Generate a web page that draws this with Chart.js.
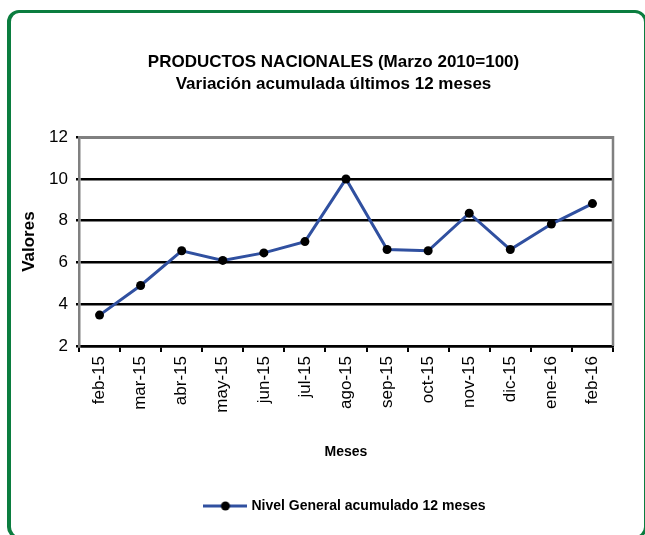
<!DOCTYPE html>
<html>
<head>
<meta charset="utf-8">
<script src="https://cdn.jsdelivr.net/npm/chart.js@4"></script>
<style>
	html, body { margin: 0; padding: 0; background: #fff; overflow: hidden; }
	#wrap { position: relative; width: 645px; height: 535px; overflow: hidden; }
	#frame {
		position: absolute; left: 7px; top: 10px; width: 640px; height: 529px;
		box-sizing: border-box; border: 3px solid #0b7d3f; border-left-width: 4px;
		border-radius: 12px;
	}
	#mycanvas { position: absolute; left: 0; top: 0; }
</style>
</head>
<body>
<div id="wrap">
	<div id="frame"></div>
	<canvas id="mycanvas" width="645" height="535"></canvas>
</div>
<script>
var meses = ["feb-15", "mar-15", "abr-15", "may-15", "jun-15", "jul-15", "ago-15",
	"sep-15", "oct-15", "nov-15", "dic-15", "ene-16", "feb-16"];
var nivelGeneral = [3.48, 4.9, 6.56, 6.1, 6.46, 7.0, 10.0, 6.62, 6.56, 8.36, 6.62, 7.84, 8.82];
var yTicks = [2, 4, 6, 8, 10, 12];

var tituloLineas = ["PRODUCTOS NACIONALES (Marzo 2010=100)", "Variación acumulada últimos 12 meses"];
var serieNombre = "Nivel General acumulado 12 meses";

var FONT = "'Liberation Sans', Arial, Helvetica, sans-serif";
var LINE_COLOR = "#3050a0";
var TITLE_SHIFT = 22;

Chart.defaults.font.family = FONT;
Chart.defaults.color = "#000";

// legend marker: blue line with a black dot
var marker = document.createElement("canvas");
marker.width = 44;
marker.height = 10;
var mctx = marker.getContext("2d");
mctx.strokeStyle = LINE_COLOR;
mctx.lineWidth = 3;
mctx.beginPath();
mctx.moveTo(0, 5);
mctx.lineTo(44, 5);
mctx.stroke();
mctx.fillStyle = "#000";
mctx.beginPath();
mctx.arc(22, 5, 4.5, 0, Math.PI * 2);
mctx.fill();

// gray frame on top and right of the plot, title nudged like the original
var plotFrame = {
	id: "plotFrame",
	afterLayout: function(chart) {
		chart.titleBlock.left += TITLE_SHIFT;
		chart.titleBlock.right += TITLE_SHIFT;
	},
	beforeDatasetsDraw: function(chart) {
		var a = chart.chartArea, ctx = chart.ctx;
		ctx.save();
		ctx.strokeStyle = "#808080";
		ctx.lineWidth = 2.5;
		ctx.beginPath();
		ctx.moveTo(a.left, a.top);
		ctx.lineTo(a.right, a.top);
		ctx.lineTo(a.right, a.bottom);
		ctx.stroke();
		ctx.restore();
	}
};

var ctx = document.getElementById("mycanvas");

var LineGraph = new Chart(ctx, {
	type: "line",
	data: {
		labels: meses,
		datasets: [{
			label: serieNombre,
			data: nivelGeneral,
			fill: false,
			tension: 0,
			borderColor: LINE_COLOR,
			borderWidth: 3,
			pointRadius: 4.5,
			pointBorderWidth: 0,
			pointBackgroundColor: "#000",
			pointBorderColor: "#000",
			pointStyle: "circle"
		}]
	},
	options: {
		responsive: false,
		animation: false,
		devicePixelRatio: 1,
		layout: { padding: { left: 10, right: 32, top: 0, bottom: 12 } },
		plugins: {
			tooltip: { enabled: false },
			title: {
				display: true,
				text: tituloLineas,
				color: "#000",
				font: { size: 17, weight: "bold", lineHeight: 1.3 },
				padding: { top: 51, bottom: 42 }
			},
			legend: {
				position: "bottom",
				fullSize: false,
				labels: {
					usePointStyle: true,
					pointStyle: marker,
					pointStyleWidth: 38,
					color: "#000",
					font: { size: 14, weight: "bold" },
					padding: 10,
					generateLabels: function(chart) {
						return [{ text: serieNombre, pointStyle: marker, fillStyle: LINE_COLOR,
							strokeStyle: LINE_COLOR, lineWidth: 0, datasetIndex: 0 }];
					}
				}
			}
		},
		scales: {
			x: {
				type: "category",
				offset: true,
				grid: { offset: true, drawOnChartArea: false, drawTicks: true, tickLength: 6,
					color: "#000", lineWidth: 2 },
				border: { color: "#000", width: 2.5 },
				ticks: { autoSkip: false, minRotation: 90, maxRotation: 90, padding: 4,
					font: { size: 17 }, color: "#000" },
				title: { display: true, text: "Meses", color: "#000",
					font: { size: 14, weight: "bold" }, padding: { top: 0, bottom: 28 } },
				afterFit: function(scale) { scale.height = 143; }
			},
			y: {
				min: yTicks[0],
				max: yTicks[yTicks.length - 1],
				afterBuildTicks: function(scale) {
					scale.ticks = yTicks.map(function(v) { return { value: v }; });
				},
				grid: { color: "#000", lineWidth: 2.5, drawTicks: true, tickLength: 3 },
				border: { color: "#808080", width: 2.5 },
				ticks: { padding: 8, font: { size: 17 }, color: "#000" },
				title: { display: true, text: "Valores", color: "#000",
					font: { size: 17, weight: "bold" }, padding: { top: 9, bottom: 0 } },
				afterFit: function(scale) { scale.width = 69; }
			}
		}
	},
	plugins: [plotFrame]
});
</script>
</body>
</html>
